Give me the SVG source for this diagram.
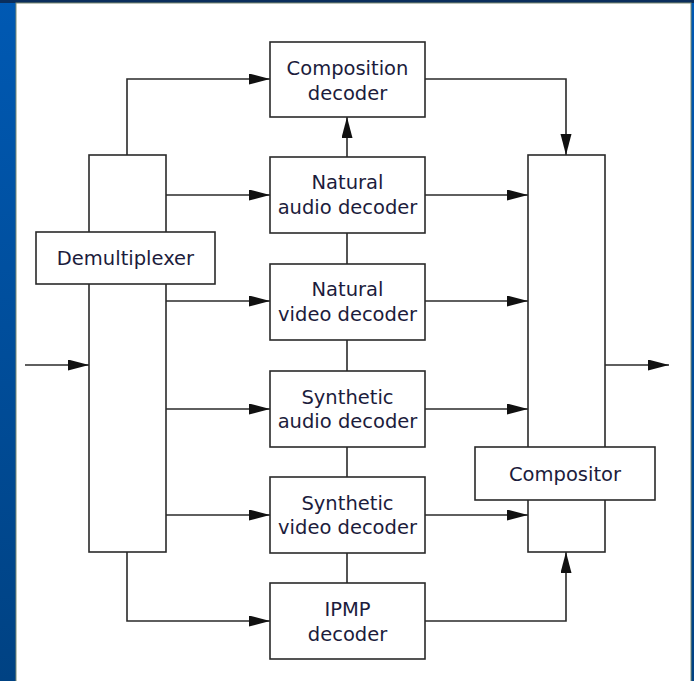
<svg xmlns="http://www.w3.org/2000/svg" width="694" height="681" viewBox="0 0 694 681">
  <defs>
    <linearGradient id="frameGrad" x1="0" y1="0" x2="0" y2="1">
      <stop offset="0" stop-color="#0059b3"/>
      <stop offset="1" stop-color="#004283"/>
    </linearGradient>
    <marker id="arrow" markerUnits="userSpaceOnUse" markerWidth="22" markerHeight="12" refX="21" refY="5.5" orient="auto">
      <path d="M0,0 L21,5.5 L0,11 z" fill="#111"/>
    </marker>
    <style>
      .box { fill: #fff; stroke: #2a2a2a; stroke-width: 1.6; }
      .wire { fill: none; stroke: #2a2a2a; stroke-width: 1.6; }
      .arr { marker-end: url(#arrow); }
      text { font-family: "DejaVu Sans", "Open Sans", sans-serif; font-size: 19.5px; fill: #1c1c3c; text-anchor: middle; }
    </style>
  </defs>

  <!-- slide frame -->
  <rect x="0" y="0" width="694" height="681" fill="url(#frameGrad)"/>
  <rect x="0" y="0" width="694" height="3" fill="#0a2e5c"/>
  <rect x="16" y="3" width="675" height="679" fill="#fff" stroke="#7d8a70" stroke-width="1"/>

  <!-- connectors -->
  <g id="connectors">
    <path class="wire arr" d="M25,365 H89"/>
    <path class="wire arr" d="M127,155 V79 H270"/>
    <path class="wire arr" d="M166,195 H270"/>
    <path class="wire arr" d="M166,301 H270"/>
    <path class="wire arr" d="M166,409 H270"/>
    <path class="wire arr" d="M166,515 H270"/>
    <path class="wire arr" d="M127,552 V621 H270"/>
    <path class="wire arr" d="M347,157 V117"/>
    <path class="wire" d="M347,233 V264"/>
    <path class="wire" d="M347,340 V371"/>
    <path class="wire" d="M347,447 V477"/>
    <path class="wire" d="M347,553 V583"/>
    <path class="wire arr" d="M425,79 H566 V155"/>
    <path class="wire arr" d="M425,195 H528"/>
    <path class="wire arr" d="M425,301 H528"/>
    <path class="wire arr" d="M425,409 H528"/>
    <path class="wire arr" d="M425,515 H528"/>
    <path class="wire arr" d="M425,621 H566 V552"/>
    <path class="wire arr" d="M605,365 H669"/>
  </g>

  <!-- demultiplexer -->
  <g id="demultiplexer">
    <rect class="box" x="89" y="155" width="77" height="397"/>
    <rect class="box" x="36" y="232" width="179" height="52"/>
    <text x="125.5" y="265">Demultiplexer</text>
  </g>

  <!-- decoders -->
  <g id="composition-decoder">
    <rect class="box" x="270" y="42" width="155" height="75"/>
    <text x="347.5" y="75">Composition</text>
    <text x="347.5" y="100">decoder</text>
  </g>
  <g id="natural-audio-decoder">
    <rect class="box" x="270" y="157" width="155" height="76"/>
    <text x="347.5" y="189">Natural</text>
    <text x="347.5" y="214">audio decoder</text>
  </g>
  <g id="natural-video-decoder">
    <rect class="box" x="270" y="264" width="155" height="76"/>
    <text x="347.5" y="296">Natural</text>
    <text x="347.5" y="321">video decoder</text>
  </g>
  <g id="synthetic-audio-decoder">
    <rect class="box" x="270" y="371" width="155" height="76"/>
    <text x="347.5" y="404">Synthetic</text>
    <text x="347.5" y="428">audio decoder</text>
  </g>
  <g id="synthetic-video-decoder">
    <rect class="box" x="270" y="477" width="155" height="76"/>
    <text x="347.5" y="510">Synthetic</text>
    <text x="347.5" y="534">video decoder</text>
  </g>
  <g id="ipmp-decoder">
    <rect class="box" x="270" y="583" width="155" height="76"/>
    <text x="347.5" y="616">IPMP</text>
    <text x="347.5" y="641">decoder</text>
  </g>

  <!-- compositor -->
  <g id="compositor">
    <rect class="box" x="528" y="155" width="77" height="397"/>
    <rect class="box" x="475" y="447" width="180" height="53"/>
    <text x="565" y="481">Compositor</text>
  </g>
</svg>
